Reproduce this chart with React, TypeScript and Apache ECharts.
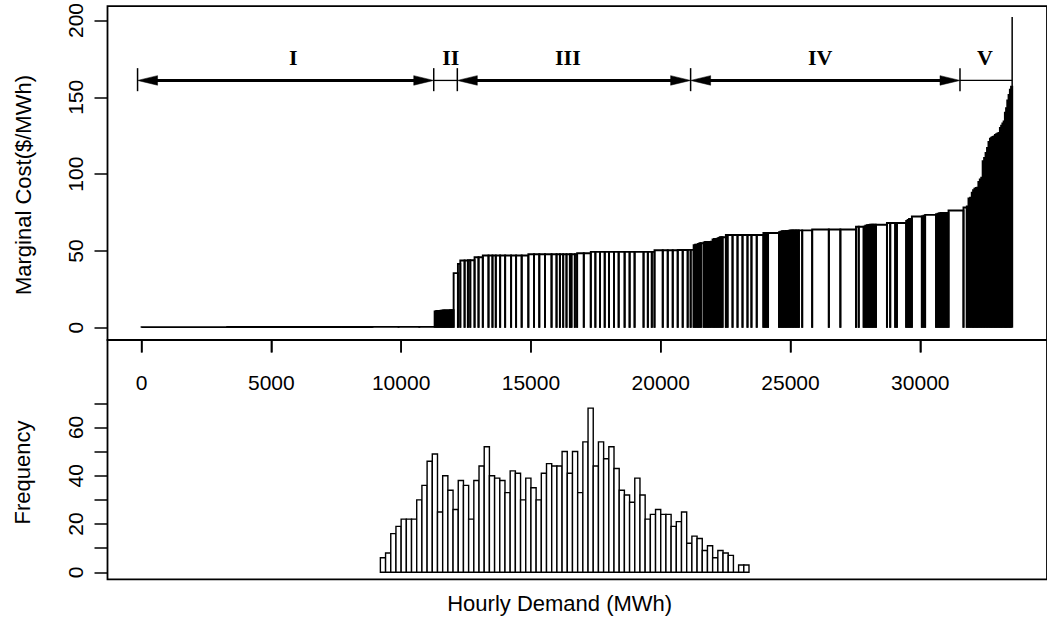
import React, { useEffect, useRef } from "react";
import * as echarts from "echarts";

// ---- Supply curve: generating units in merit order ----
const unitCapacity: number[] = [
  // region I
  3300, 2500, 1900, 1200, 1000, 800, 590,
  // region II
  45, 46, 44, 47, 45, 46, 45, 44, 46, 45, 47, 45, 46, 44, 47, 50,
  // region III
  165, 92, 165, 127, 92, 165, 153, 165, 219, 153,
  127, 169, 192, 230, 192, 215, 257, 219, 203, 219,
  253, 192, 130, 127, 127, 130, 61, 130, 88, 257,
  269, 177, 180, 180, 165, 192, 180, 230, 192, 192,
  345, 165, 153, 104, 318, 192, 192, 192, 192, 192,
  115,
  // region IV
  115,
  56, 56, 56, 56, 56,
  104,
  56, 56, 56, 56, 56,
  65,
  55, 55, 55, 55, 55, 55, 55,
  127,
  65, 192, 192, 192, 192, 153, 203, 257,
  60, 60, 60,
  422,
  53, 53, 53, 53, 53, 53,
  56, 56, 56, 56, 56, 56, 56, 56,
  127, 384,
  641, 445, 602,
  104, 192, 61,
  59, 59, 59, 59, 59, 59, 59,
  422,
  127, 192, 65, 357,
  55, 55, 55, 55,
  384,
  63, 63,
  422,
  60, 60, 60, 60, 60, 60, 60, 60,
  576,
  // region V
  127, 65,
  63, 63,
  51, 51, 51, 51, 51,
  55, 55, 55,
  56, 56, 56, 56, 56,
  48, 48, 48, 48,
  48, 48, 48, 48,
  48, 48, 48, 48,
  46, 46,
  50, 50,
  46, 46,
];

const unitCost: number[] = [
  // region I
  0.4, 0.5, 0.5, 0.5, 0.6, 0.6, 0.6,
  // region II
  10.6, 10.8, 10.9, 11, 11, 11.1, 11.1, 11.2, 11.2, 11.2, 11.3, 11.3, 11.3, 11.4, 11.4, 11.4,
  // region III
  35.6, 41.6, 43.8, 43.8, 44.0, 44.0, 45.9, 45.9, 47.0, 47.0,
  47.0, 47.0, 47.0, 47.0, 47.0, 47.0, 47.0, 47.9, 47.9, 47.9,
  47.9, 47.9, 47.9, 47.9, 47.9, 47.9, 47.9, 47.9, 47.9, 48.5,
  48.5, 49.4, 49.4, 49.4, 49.4, 49.4, 49.4, 49.4, 49.4, 49.4,
  49.4, 49.4, 49.4, 49.4, 50.5, 50.5, 50.5, 50.5, 50.6, 50.6,
  50.7,
  // region IV
  50.7,
  53.8, 54.0, 54.1, 54.5, 55.0,
  55.0,
  55.6, 55.8, 55.9, 55.9, 55.9,
  56.0,
  57.5, 57.8, 57.8, 58.0, 58.5, 58.9, 58.9,
  58.9,
  60.4, 60.4, 60.4, 60.4, 60.4, 60.4, 60.4, 60.4,
  61.7, 61.7, 61.7,
  61.7,
  62.2, 62.5, 62.8, 62.8, 62.8, 63.0,
  63.0, 63.2, 63.4, 63.4, 63.4, 63.4, 63.4, 63.4,
  63.4, 63.4,
  64.0, 64.0, 64.0,
  65.8, 65.8, 65.8,
  66.5, 66.8, 67.0, 67.1, 67.1, 67.1, 67.1,
  67.1,
  68.2, 68.2, 68.2, 68.2,
  69.5, 70.2, 70.8, 70.8,
  72.4,
  72.4, 73.0,
  73.5,
  74.0, 74.3, 74.5, 74.8, 74.8, 74.8, 74.8, 74.8,
  76.3,
  // region V
  78.3, 78.9,
  84.2, 84.7,
  88, 89.5, 90.5, 91, 91.2,
  95, 96.5, 97.7,
  108.5, 110.5, 113.8, 117, 121,
  123, 123.8, 124.2, 124.6,
  125.5, 126, 126.5, 126.8,
  130, 131.5, 133, 134.3,
  140, 143,
  148, 151.6,
  155, 157,
];

// ---- Region annotations ----
const regionNames = ["I", "II", "III", "IV", "V"];
const regionBounds = [-154, 11255, 12164, 21151, 31528, 33538];
const regionLabelX = [5840, 11913, 16424, 26145, 32487];
const regionHasArrows = [true, false, true, true, false];
const arrowLevel = 161;
const labelLevel = 175.7;
const boundTickLow = [154, 154, 154, 154, 154, 150];
const boundTickHigh = [169, 169, 169, 169, 169, 202.3];

// ---- Axes ----
const demandTicks = [0, 5000, 10000, 15000, 20000, 25000, 30000];
const costTicks = [0, 50, 100, 150, 200];
const freqTicks = [0, 10, 20, 30, 40, 50, 60, 70];
const freqLabels = [0, 20, 40, 60];
const demandMin = -1312;
const demandMax = 34880;
const costMin = -7.96;
const costMax = 209.4;
const freqMin = -2.9;
const freqMax = 96.2;

// ---- Histogram of hourly demand ----
const histFirstBreak = 9200;
const histBinWidth = 200;
const histCounts = [
  6, 8, 16, 19, 22, 22, 22, 30, 36, 46,
  49, 25, 40, 34, 26, 38, 36, 22, 38, 44,
  52, 40, 39, 38, 33, 42, 41, 30, 39, 35,
  30, 41, 45, 44, 44, 50, 41, 50, 33, 54,
  68, 44, 54, 47, 52, 43, 34, 32, 29, 39,
  32, 22, 24, 26, 24, 24, 19, 21, 25, 12,
  15, 14, 9, 11, 6, 9, 8, 7, 0, 3,
  3,
];

const SANS = '"Liberation Sans", Arial, sans-serif';
const SERIF = '"Liberation Serif", "Times New Roman", serif';

export default function App() {
  const ref = useRef<HTMLDivElement>(null);

  useEffect(() => {
    if (!ref.current) return;
    const chart = echarts.init(ref.current, null, { renderer: "svg" });

    let cum = 0;
    const supplyData = unitCapacity.map((c, i) => {
      const s = cum;
      cum += c;
      return [s, cum, unitCost[i]];
    });
    const regionData = regionNames.map((_, i) => [regionBounds[i], regionBounds[i + 1], regionLabelX[i], i]);
    const boundData = regionBounds.map((b, i) => [b, boundTickLow[i], boundTickHigh[i]]);
    const histData = histCounts.map((c, i) => [
      histFirstBreak + i * histBinWidth,
      histFirstBreak + (i + 1) * histBinWidth,
      c,
    ]);

    const tickStyle = { color: "#000", width: 1.5 };
    const labelStyle = {
      color: "#000",
      fontFamily: SANS,
      fontSize: 21,
      formatter: (v: number) => String(v),
    };

    const titles = [
      {
        type: "text", x: 23, y: 185, rotation: Math.PI / 2,
        style: { text: "Marginal Cost($/MWh)", font: `22px ${SANS}`, align: "center", verticalAlign: "middle", fill: "#000" },
      },
      {
        type: "text", x: 22, y: 472.5, rotation: Math.PI / 2,
        style: { text: "Frequency", font: `22px ${SANS}`, align: "center", verticalAlign: "middle", fill: "#000" },
      },
      {
        type: "text", x: 559.7, y: 603,
        style: { text: "Hourly Demand (MWh)", font: `22px ${SANS}`, align: "center", verticalAlign: "middle", fill: "#000" },
      },
    ];

    const option: any = {
      animation: false,
      backgroundColor: "#fff",
      grid: [
        { left: 107.5, top: 4, width: 943.2, height: 336, show: true, borderColor: "#000", borderWidth: 1.8, backgroundColor: "transparent" },
        { left: 107.5, top: 340, width: 943.2, height: 239.3, show: true, borderColor: "#000", borderWidth: 1.8, backgroundColor: "transparent" },
      ],
      xAxis: [
        {
          type: "value", gridIndex: 0, min: demandMin, max: demandMax, position: "bottom",
          axisLine: { show: false, onZero: false },
          axisTick: { show: true, customValues: demandTicks, length: 12.5, lineStyle: tickStyle },
          axisLabel: { customValues: demandTicks, margin: 32, ...labelStyle },
          splitLine: { show: false },
        },
        {
          type: "value", gridIndex: 1, min: demandMin, max: demandMax, position: "top",
          axisLine: { show: false, onZero: false },
          axisTick: { show: false },
          axisLabel: { show: false },
          splitLine: { show: false },
        },
      ],
      yAxis: [
        {
          type: "value", gridIndex: 0, min: costMin, max: costMax, position: "left",
          axisLine: { show: false, onZero: false },
          axisTick: { show: true, customValues: costTicks, length: 13, lineStyle: tickStyle },
          axisLabel: { customValues: costTicks, rotate: 90, margin: 22, ...labelStyle },
          splitLine: { show: false },
        },
        {
          type: "value", gridIndex: 1, min: freqMin, max: freqMax, position: "left",
          axisLine: { show: false, onZero: false },
          axisTick: { show: true, customValues: freqTicks, length: 13, lineStyle: tickStyle },
          axisLabel: { customValues: freqLabels, rotate: 90, margin: 22, ...labelStyle },
          splitLine: { show: false },
        },
      ],
      series: [
        {
          type: "custom", name: "supply", xAxisIndex: 0, yAxisIndex: 0, data: supplyData,
          encode: { x: [0, 1], y: 2 },
          renderItem: (params: any, api: any) => {
            const s = api.value(0), e = api.value(1), c = api.value(2);
            const a = api.coord([s, 0]);
            const b = api.coord([e, c]);
            return {
              type: "polyline",
              shape: { points: [[a[0], a[1]], [a[0], b[1]], [b[0], b[1]], [b[0], a[1]]] },
              style: { stroke: "#000", lineWidth: 1.9, fill: null },
            };
          },
        },
        {
          type: "custom", name: "regions", xAxisIndex: 0, yAxisIndex: 0, data: regionData,
          encode: { x: [0, 1], y: 3 },
          renderItem: (params: any, api: any) => {
            const i = params.dataIndex;
            const p0 = api.coord([api.value(0), arrowLevel]);
            const p1 = api.coord([api.value(1), arrowLevel]);
            const lab = api.coord([api.value(2), labelLevel]);
            const heads = regionHasArrows[i];
            const children: any[] = [
              {
                type: "line",
                shape: { x1: p0[0] + (heads ? 8 : 0), y1: p0[1], x2: p1[0] - (heads ? 8 : 0), y2: p1[1] },
                style: { stroke: "#000", lineWidth: heads ? 3 : 1.3 },
              },
            ];
            if (heads) {
              const L = 20, W = 4.8;
              children.push({
                type: "polygon",
                shape: { points: [[p0[0], p0[1]], [p0[0] + L, p0[1] - W], [p0[0] + L, p0[1] + W]] },
                style: { fill: "#000", stroke: "#000", lineWidth: 0.5 },
              });
              children.push({
                type: "polygon",
                shape: { points: [[p1[0], p1[1]], [p1[0] - L, p1[1] - W], [p1[0] - L, p1[1] + W]] },
                style: { fill: "#000", stroke: "#000", lineWidth: 0.5 },
              });
            }
            children.push({
              type: "text", x: lab[0], y: lab[1],
              style: { text: regionNames[i], align: "center", verticalAlign: "middle", font: `bold 22px ${SERIF}`, fill: "#000" },
            });
            return { type: "group", children };
          },
        },
        {
          type: "custom", name: "bounds", xAxisIndex: 0, yAxisIndex: 0, data: boundData,
          encode: { x: 0, y: [1, 2] },
          renderItem: (params: any, api: any) => {
            const a = api.coord([api.value(0), api.value(1)]);
            const b = api.coord([api.value(0), api.value(2)]);
            return {
              type: "line",
              shape: { x1: a[0], y1: a[1], x2: b[0], y2: b[1] },
              style: { stroke: "#000", lineWidth: 1.5 },
            };
          },
        },
        {
          type: "custom", name: "histogram", xAxisIndex: 1, yAxisIndex: 1, data: histData,
          encode: { x: [0, 1], y: 2 },
          renderItem: (params: any, api: any) => {
            const a = api.coord([api.value(0), 0]);
            const b = api.coord([api.value(1), api.value(2)]);
            return {
              type: "rect",
              shape: { x: a[0], y: b[1], width: b[0] - a[0], height: a[1] - b[1] },
              style: { fill: "#fff", stroke: "#000", lineWidth: 1.4 },
            };
          },
        },
      ],
      graphic: titles,
    };

    chart.setOption(option);

    // Demand-axis tick marks hanging below the upper panel, placed through the axis scale
    const tickLines = demandTicks.map((v) => {
      const p = chart.convertToPixel({ xAxisIndex: 0, yAxisIndex: 0 }, [v, costMin]) as number[];
      return {
        type: "line", z: 100,
        shape: { x1: p[0], y1: p[1], x2: p[0], y2: p[1] + 12.5 },
        style: { stroke: "#000", lineWidth: 1.5 },
      };
    });
    chart.setOption({ graphic: [...titles, ...tickLines] });

    return () => chart.dispose();
  }, []);

  return (
    <div
      ref={ref}
      style={{ position: "fixed", left: 0, top: 0, width: 1047, height: 630, background: "#fff" }}
    />
  );
}
